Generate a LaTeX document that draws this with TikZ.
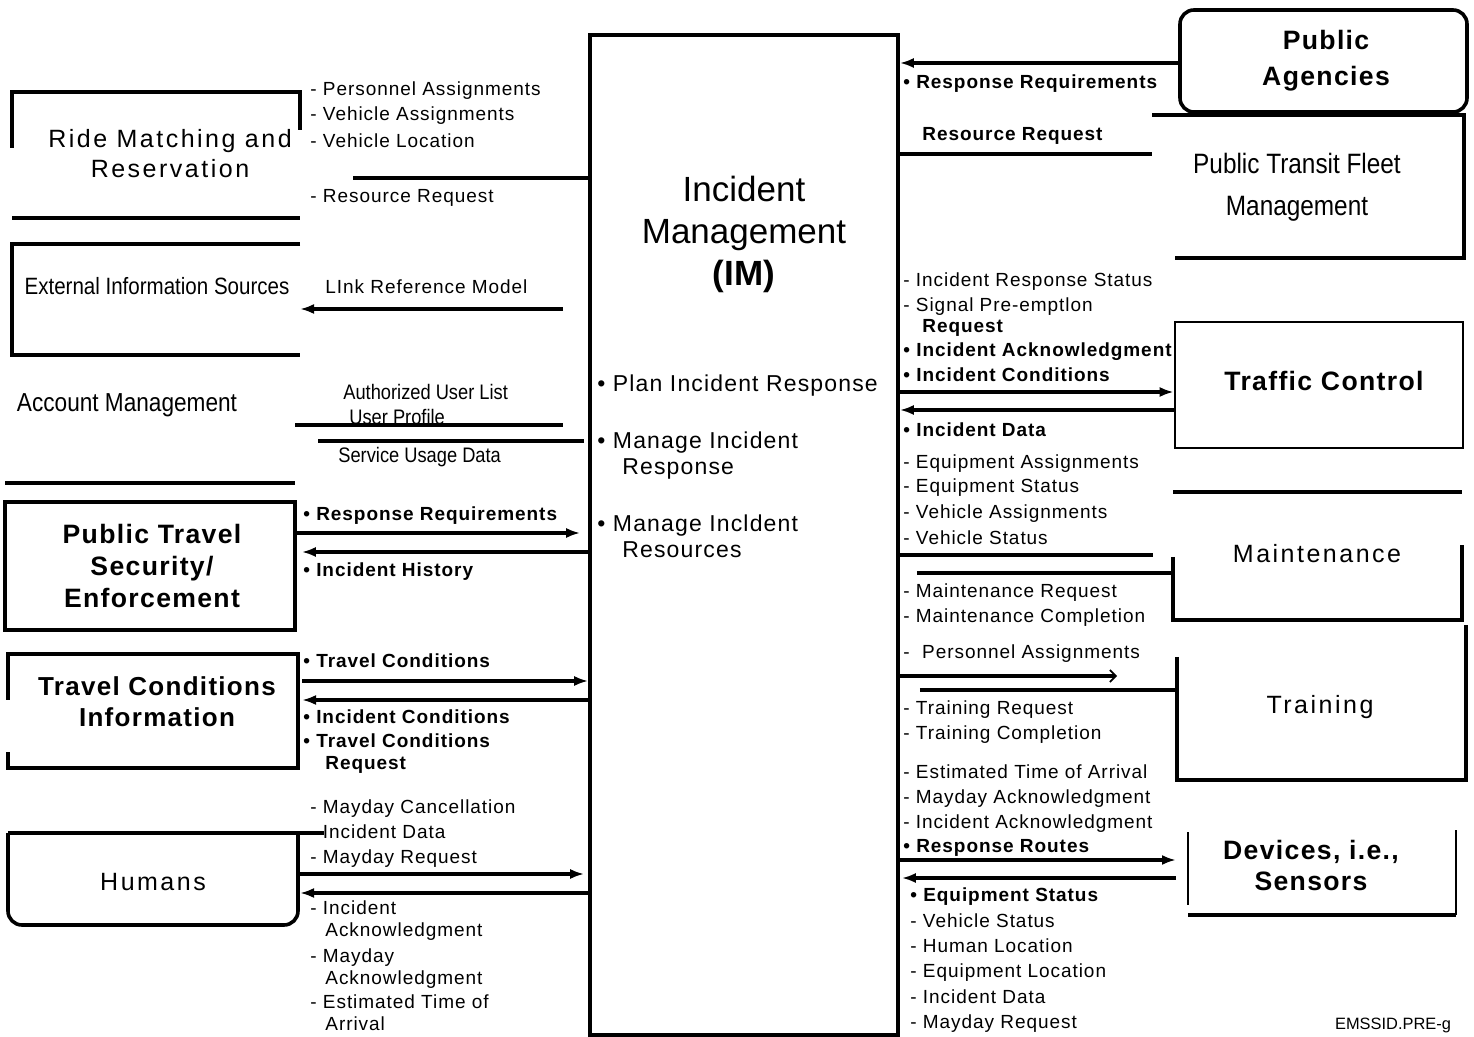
\documentclass[tikz,border=0pt]{standalone}
\usepackage{fontspec}
\setmainfont{Liberation Sans}
\newfontfamily\lblfont[LetterSpace=5]{Liberation Sans}
\newfontfamily\ttlfont[LetterSpace=10]{Liberation Sans}
\newfontfamily\nrwfont[FakeStretch=0.87]{Liberation Sans}
\usetikzlibrary{arrows.meta}
\begin{document}
\begin{tikzpicture}[x=0.5pt,y=-0.5pt,
  shapebox/.style={draw=none, inner sep=0pt, outer sep=0pt},
  fullbox/.style={draw, line width=1.8pt, inner sep=0pt},
  thinbox/.style={draw, line width=1.3pt, inner sep=0pt},
  edge/.style={line width=1.8pt},
  thinedge/.style={line width=1.1pt},
  conn/.style={line width=1.8pt},
  arr/.style={conn, -{Latex[length=7pt,width=5pt]}},
  lbl/.style={font=\lblfont\fontsize{9.5}{11}\selectfont, anchor=mid west, inner sep=0pt, yshift=-1pt},
  blbl/.style={font=\lblfont\bfseries\fontsize{9.5}{11}\selectfont, anchor=mid west, inner sep=0pt, yshift=-1pt},
  nlbl/.style={font=\nrwfont\fontsize{10.5}{12}\selectfont, anchor=mid west, inner sep=0pt, yshift=-1pt},
  ttl/.style={font=\ttlfont\fontsize{12.5}{15}\selectfont, align=center, inner sep=0pt},
  bttl/.style={font=\lblfont\bfseries\fontsize{13.3}{16}\selectfont, align=center, inner sep=0pt},
  nttl/.style={align=center, inner sep=0pt}
]
\useasboundingbox (0,0) rectangle (1474,1037);

% ---------- central box ----------
\node[fullbox, minimum width=154pt, minimum height=500pt] (im) at (744,535) {};
\node[font=\fontsize{17.5}{21}\selectfont, align=center, inner sep=0pt] (imt) at (744,234)
  {Incident\\Management\\\textbf{(IM)}};
\node[font=\lblfont\fontsize{11.5}{13}\selectfont, anchor=mid west, inner sep=0pt, yshift=-1pt] (imb1) at (597,384) {\textbullet\ Plan Incident Response};
\node[font=\lblfont\fontsize{11.5}{13}\selectfont, anchor=mid west, inner sep=0pt, yshift=-1pt] (imb2) at (597,441) {\textbullet\ Manage Incident};
\node[font=\lblfont\fontsize{11.5}{13}\selectfont, anchor=mid west, inner sep=0pt, yshift=-1pt] (imb2b) at (622,467) {Response};
\node[font=\lblfont\fontsize{11.5}{13}\selectfont, anchor=mid west, inner sep=0pt, yshift=-1pt] (imb3) at (597,524) {\textbullet\ Manage Incldent};
\node[font=\lblfont\fontsize{11.5}{13}\selectfont, anchor=mid west, inner sep=0pt, yshift=-1pt] (imb3b) at (622,550) {Resources};

% ---------- left boxes ----------
\node[shapebox, minimum width=144pt, minimum height=63pt] (rm) at (156,155) {};
\draw[edge] (rm.west |- 0,148) -- (rm.north west) -- (rm.north east) -- (rm.east |- 0,130);
\draw[edge] (rm.south west) -- (rm.south east);
\node[ttl] (rmt) at (170,154) {Ride Matching and\\Reservation};

\node[shapebox, minimum width=144pt, minimum height=55.5pt] (ext) at (156,299.5) {};
\draw[edge] (ext.north east) -- (ext.north west) -- (ext.south west) -- (ext.south east);
\node[nttl, font=\nrwfont\fontsize{11.8}{14}\selectfont] (extt) at (157,286) {External Information Sources};

\node[shapebox, minimum width=145pt, minimum height=56.5pt] (acct) at (150,426.5) {};
\draw[edge] (acct.south west) -- (acct.south east);
\node[nttl, font=\nrwfont\fontsize{13}{15}\selectfont] (acctt) at (127,405) {Account Management};

\node[fullbox, minimum width=145pt, minimum height=64pt] (pts) at (150,566) {};
\node[bttl] (ptst) at (152,566) {Public Travel\\Security/\\Enforcement};

\node[shapebox, minimum width=145pt, minimum height=57pt] (tci) at (153,711) {};
\draw[edge] (tci.west |- 0,700) -- (tci.north west) -- (tci.north east) -- (tci.south east) -- (tci.south west) -- (tci.west |- 0,752);
\node[bttl, font=\lblfont\bfseries\fontsize{13}{15.5}\selectfont] (tcit) at (157,702) {Travel Conditions\\Information};

\node[shapebox, minimum width=145pt, minimum height=46pt] (hum) at (153,879) {};
\draw[edge] (hum.north west) -- ([xshift=13pt]hum.north east);
\draw[edge, rounded corners=7pt] (hum.north west) -- (hum.south west) -- (hum.south east) -- (hum.north east);
\node[ttl] (humt) at (153,882) {Humans};

% ---------- right boxes ----------
\node[fullbox, rounded corners=7pt, minimum width=143.5pt, minimum height=51pt] (pa) at (1323.5,61) {};
\node[bttl, font=\lblfont\bfseries\fontsize{13.3}{18}\selectfont] (pat) at (1326,61) {Public\\Agencies};

\node[shapebox, minimum width=156pt, minimum height=71.5pt] (ptf) at (1308,186.5) {};
\draw[edge] (ptf.north west) -- (ptf.north east) -- (ptf.south east) -- ([xshift=11.5pt]ptf.south west);
\node[nttl, font=\nrwfont\fontsize{14}{21}\selectfont] (ptft) at (1297,187) {Public Transit Fleet\\Management};

\node[thinbox, minimum width=144pt, minimum height=63pt] (tc) at (1319,385) {};
\node[bttl] (tct) at (1324,381) {Traffic Control};

\node[shapebox, minimum width=144.5pt, minimum height=64pt] (mt) at (1317.5,556) {};
\draw[edge] (mt.north west) -- (mt.north east);
\draw[edge] (mt.west |- 0,557) -- (mt.south west) -- (mt.south east) -- (mt.east |- 0,545);
\node[ttl] (mtt) at (1317,554) {Maintenance};

\node[shapebox, minimum width=144.5pt, minimum height=77.5pt] (tr) at (1321.5,702.5) {};
\draw[edge] (tr.west |- 0,657) -- (tr.south west) -- (tr.south east) -- (tr.north east);
\node[ttl] (trt) at (1320,707) {Training};

\node[shapebox, minimum width=134pt, minimum height=42.5pt] (dev) at (1322,872.5) {};
\draw[thinedge] (dev.west |- 0,832) -- (dev.west |- 0,905);
\draw[thinedge] (dev.north east) -- (dev.south east);
\draw[edge] (dev.south west) -- (dev.south east);
\node[bttl, font=\lblfont\bfseries\fontsize{13.3}{15.5}\selectfont] (devt) at (1311,865) {Devices, i.e.,\\Sensors};

% ---------- connectors left ----------
\draw[conn] ([xshift=26.5pt]rm.east |- 0,178) -- (im.west |- 0,178);
\draw[arr] ([xshift=-12.5pt]im.west |- 0,309) -- (ext.east |- 0,309);
\draw[conn] (acct.east |- 0,425) -- ([xshift=-12.5pt]im.west |- 0,425);
\draw[conn] ([xshift=11.5pt]acct.east |- 0,441) -- ([xshift=-2pt]im.west |- 0,441);
\draw[arr] (pts.east |- 0,533) -- ([xshift=-4pt]im.west |- 0,533);
\draw[arr] (im.west |- 0,552) -- ([xshift=2.5pt]pts.east |- 0,552);
\draw[arr] ([xshift=2pt]tci.east |- 0,681) -- (im.west |- 0,681);
\draw[arr] (im.west |- 0,700) -- ([xshift=2pt]tci.east |- 0,700);
\draw[arr] (hum.east |- 0,874) -- ([xshift=-2pt]im.west |- 0,874);
\draw[arr] (im.west |- 0,893) -- ([xshift=1pt]hum.east |- 0,893);

% ---------- connectors right ----------
\draw[arr] (pa.west |- 0,63) -- (im.east |- 0,63);
\draw[conn] (im.east |- 0,154) -- (ptf.west |- 0,154);
\draw[arr] (im.east |- 0,392) -- (tc.west |- 0,392);
\draw[arr] (tc.west |- 0,410) -- (im.east |- 0,410);
\draw[conn] (im.east |- 0,555) -- ([xshift=-10pt]mt.west |- 0,555);
\draw[conn] ([xshift=8.5pt]im.east |- 0,573) -- (mt.west |- 0,573);
\draw[conn, -{Straight Barb[length=3pt,width=6pt,line width=0.8pt]}] (im.east |- 0,676) -- ([xshift=-30pt]tr.west |- 0,676);
\draw[conn] ([xshift=10pt]im.east |- 0,690) -- (tr.west |- 0,690);
\draw[arr] (im.east |- 0,860) -- ([xshift=-6pt]dev.west |- 0,860);
\draw[arr] ([xshift=-6pt]dev.west |- 0,878) -- ([xshift=1pt]im.east |- 0,878);

% ---------- labels left ----------
\foreach \t/\y [count=\i] in {{- Personnel Assignments}/88, {- Vehicle Assignments}/113, {- Vehicle Location}/140, {- Resource Request}/195,
  {- Mayday Cancellation}/806, {- Incident Data}/831, {- Mayday Request}/856, {- Incident}/907, {- Mayday}/955, {- Estimated Time of}/1001}
  \node[lbl] (ll\i) at (310,\y) {\t};
\foreach \t/\y [count=\i] in {{Acknowledgment}/929, {Acknowledgment}/977, {Arrival}/1023}
  \node[lbl] (lc\i) at (325,\y) {\t};
\node[lbl] (lrm) at (325,286) {LInk Reference Model};
\node[nlbl] (la1) at (343,392) {Authorized User List};
\node[nlbl] (la2) at (349,417) {User Profile};
\node[nlbl] (la3) at (338,455) {Service Usage Data};
\foreach \t/\y [count=\i] in {{Response Requirements}/513, {Incident History}/569, {Travel Conditions}/660, {Incident Conditions}/716, {Travel Conditions}/740}
  \node[blbl] (lb\i) at (303,\y) {\textbullet\ \t};
\node[blbl] (lbr) at (325,762) {Request};

% ---------- labels right ----------
\node[blbl] (rb1) at (903,81) {\textbullet\ Response Requirements};
\node[blbl] (rb2) at (922,133) {Resource Request};
\node[blbl] (rb3) at (922,325) {Request};
\foreach \t/\y [count=\i] in {{Incident Acknowledgment}/349, {Incident Conditions}/374, {Incident Data}/429, {Response Routes}/845}
  \node[blbl] (rbb\i) at (903,\y) {\textbullet\ \t};
\node[blbl] (rbe) at (910,894) {\textbullet\ Equipment Status};
\foreach \t/\y [count=\i] in {{Incident Response Status}/279, {Signal Pre-emptlon}/304, {Equipment Assignments}/461, {Equipment Status}/485,
  {Vehicle Assignments}/511, {Vehicle Status}/537, {Maintenance Request}/590, {Maintenance Completion}/615, {\ Personnel Assignments}/651,
  {Training Request}/707, {Training Completion}/732, {Estimated Time of Arrival}/771, {Mayday Acknowledgment}/796, {Incident Acknowledgment}/821}
  \node[lbl] (rl\i) at (903,\y) {- \t};
\foreach \t/\y [count=\i] in {{Vehicle Status}/920, {Human Location}/945, {Equipment Location}/970, {Incident Data}/996, {Mayday Request}/1021}
  \node[lbl] (rd\i) at (910,\y) {- \t};

\node[font=\fontsize{8.2}{10}\selectfont, inner sep=0pt] (tag) at (1393,1025) {EMSSID.PRE-g};
\end{tikzpicture}
\end{document}
